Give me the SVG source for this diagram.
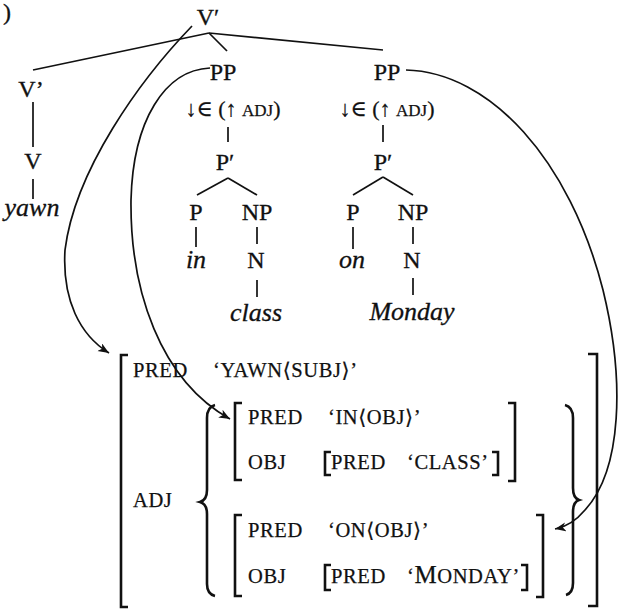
<svg xmlns="http://www.w3.org/2000/svg" width="618" height="610" viewBox="0 0 618 610">
<style>
.t{font-family:"Liberation Serif","DejaVu Serif",serif;font-size:24px;fill:#111;text-anchor:middle;stroke:#111;stroke-width:0.3}
.i{font-style:italic;font-size:26px}
.ann{font-family:"Liberation Serif","DejaVu Serif",serif;font-size:22px;fill:#111;text-anchor:middle;stroke:#111;stroke-width:0.25}
.sc{font-family:"Liberation Serif","DejaVu Serif",serif;font-size:20.5px;letter-spacing:0.6px;fill:#111;stroke:#111;stroke-width:0.25}
.ln{stroke:#111;stroke-width:1.7;fill:none}
.br{stroke:#111;stroke-width:2.6;fill:none}
.cv{stroke:#111;stroke-width:1.7;fill:none;marker-end:url(#ah)}
</style>
<defs>
<marker id="ah" markerUnits="userSpaceOnUse" markerWidth="12" markerHeight="10" refX="11" refY="4.5" orient="auto">
<path d="M0,0 L11,4.5 L0,9 L3,4.5 z" fill="#111"/>
</marker>
</defs>
<rect width="618" height="610" fill="#fff"/>
<text class="t" x="7" y="20" font-size="20">)</text>

<g id="tree-lines" class="ln">
<line x1="209" y1="33" x2="33" y2="70"/>
<line x1="209" y1="33" x2="383" y2="50"/>
<line x1="209" y1="33" x2="227" y2="51"/>
<line x1="33" y1="102" x2="33" y2="147"/>
<line x1="33" y1="179" x2="33" y2="199"/>
<line x1="228" y1="127" x2="228" y2="142"/>
<line x1="228" y1="178" x2="197" y2="195"/>
<line x1="228" y1="178" x2="257" y2="195"/>
<line x1="196" y1="227" x2="196" y2="247"/>
<line x1="257" y1="227" x2="257" y2="244"/>
<line x1="257" y1="280" x2="257" y2="297"/>
<line x1="383" y1="125" x2="383" y2="142"/>
<line x1="383" y1="177" x2="353" y2="195"/>
<line x1="383" y1="177" x2="413" y2="195"/>
<line x1="353" y1="227" x2="353" y2="249"/>
<line x1="413" y1="227" x2="413" y2="244"/>
<line x1="413" y1="278" x2="413" y2="295"/>
</g>

<g id="n-vbar-top"><text class="t" x="208" y="25">V′</text></g>
<g id="n-vbar-left"><text class="t" x="31" y="97">V’</text></g>
<g id="n-v"><text class="t" x="33" y="169">V</text></g>
<g id="n-yawn"><text class="t i" x="32" y="216">yawn</text></g>

<g id="n-pp1"><text class="t" x="223" y="80">PP</text>
<text class="ann" x="233" y="116">↓∈ (↑ <tspan font-size="17">ADJ</tspan>)</text></g>
<g id="n-pbar1"><text class="t" x="225" y="170">P′</text></g>
<g id="n-p1"><text class="t" x="196" y="220">P</text></g>
<g id="n-np1"><text class="t" x="257" y="220">NP</text></g>
<g id="n-in"><text class="t i" x="196" y="268">in</text></g>
<g id="n-n1"><text class="t" x="256" y="268">N</text></g>
<g id="n-class"><text class="t i" x="256" y="321">class</text></g>

<g id="n-pp2"><text class="t" x="387" y="80">PP</text>
<text class="ann" x="387" y="116">↓∈ (↑ <tspan font-size="17">ADJ</tspan>)</text></g>
<g id="n-pbar2"><text class="t" x="383" y="170">P′</text></g>
<g id="n-p2"><text class="t" x="353" y="220">P</text></g>
<g id="n-np2"><text class="t" x="413" y="220">NP</text></g>
<g id="n-on"><text class="t i" x="352" y="268">on</text></g>
<g id="n-n2"><text class="t" x="412" y="268">N</text></g>
<g id="n-monday"><text class="t i" x="412" y="320">Monday</text></g>

<g id="fstructure">
<path class="br" d="M128,355 H121 V607 H128"/>
<path class="br" d="M588,354 H597 V606 H588"/>
<text class="sc" x="133" y="377">PRED</text>
<text class="sc" x="213" y="377">‘YAWN⟨SUBJ⟩’</text>
<text class="sc" x="133" y="507">ADJ</text>
<path class="br" d="M215,405 Q207,407 207,418 L207,490 Q207,500 200,502 Q207,504 207,514 L207,584 Q207,594 215,596"/>
<path class="br" d="M565,405 Q573,407 573,418 L573,488 Q573,498 579,500 Q573,502 573,512 L573,583 Q573,593 566,595"/>
</g>

<g id="f-in">
<path class="br" d="M242,403 H235 V480 H242"/>
<path class="br" d="M508,403 H515 V481 H508"/>
<text class="sc" x="248" y="424">PRED</text>
<text class="sc" x="328" y="424">‘IN⟨OBJ⟩’</text>
<text class="sc" x="248" y="469">OBJ</text>
<path class="br" d="M331,452 H325 V475 H331"/>
<path class="br" d="M492,452 H498 V475 H492"/>
<text class="sc" x="331" y="469">PRED</text>
<text class="sc" x="407" y="469">‘CLASS’</text>
</g>

<g id="f-on">
<path class="br" d="M242,515 H235 V596 H242"/>
<path class="br" d="M536,515 H543 V597 H536"/>
<text class="sc" x="248" y="537">PRED</text>
<text class="sc" x="328" y="537">‘ON⟨OBJ⟩’</text>
<text class="sc" x="248" y="583">OBJ</text>
<path class="br" d="M331,565 H325 V590 H331"/>
<path class="br" d="M521,565 H527 V590 H521"/>
<text class="sc" x="331" y="583">PRED</text>
<text class="sc" x="407" y="583">‘<tspan font-size="25">M</tspan>ONDAY’</text>
</g>

<g id="connectors">
<path class="cv" d="M192,26 C140,80 75,170 65,250 C62,300 80,335 109,353"/>
<path class="cv" d="M210,68 C165,70 133,120 131,200 C130,290 160,380 230,419"/>
<path class="cv" d="M406,70 C490,72 570,160 603,290 C625,380 622,470 585,510 C575,522 566,527 555,529"/>
</g>
</svg>
